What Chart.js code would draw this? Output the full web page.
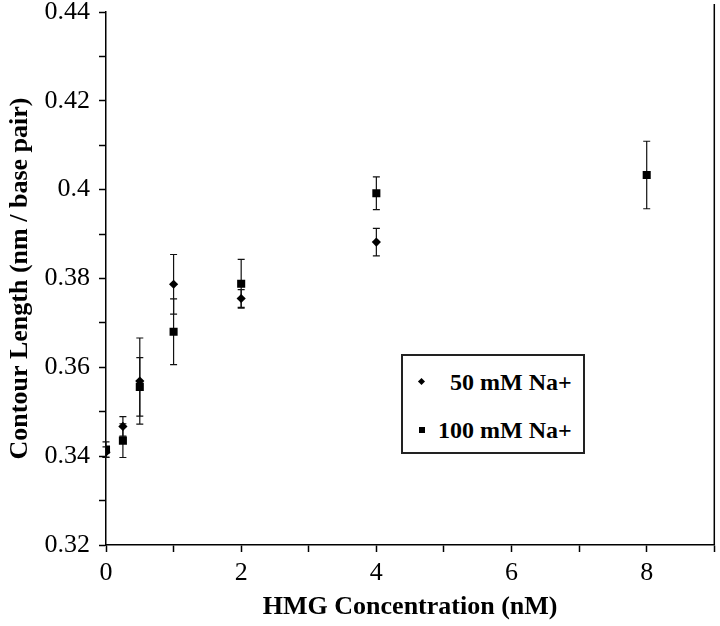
<!DOCTYPE html>
<html>
<head>
<meta charset="utf-8">
<script src="https://cdn.jsdelivr.net/npm/chart.js@4"></script>
<style>
  body { margin: 0; background: #fff; }
  #wrap { position: relative; width: 720px; height: 626px; }
  #legend {
    position: absolute; left: 401px; top: 354px; width: 180px; height: 96px;
    border: 2px solid #222; background: #fff;
    font-family: "Liberation Serif", serif; font-weight: bold; font-size: 24px; color: #000;
  }
  .row { position: absolute; white-space: nowrap; line-height: 24px; }
  .mark { position: absolute; background: #000; }
</style>
</head>
<body>
<div id="wrap">
  <canvas id="chart" width="720" height="626"></canvas>
  <div id="legend"></div>
</div>
<script>
// HMG concentration (nM) and contour length (nm / base pair)
const conc50 = [0, 0.25, 0.5, 1, 2, 4];
const len50 = [0.3409, 0.3467, 0.3569, 0.3787, 0.3755, 0.3882];
const err50 = [0.0012, 0.0022, 0.0097, 0.0067, 0.0020, 0.0031];

const conc100 = [0, 0.25, 0.5, 1, 2, 4, 8];
const len100 = [0.3415, 0.3435, 0.3556, 0.3680, 0.3788, 0.3992, 0.4033];
const err100 = [0.0017, 0.0038, 0.0066, 0.0074, 0.0055, 0.0037, 0.0076];

const seriesLabels = ["50 mM Na+", "100 mM Na+"];
const xTitle = "HMG Concentration (nM)";
const yTitle = "Contour Length (nm / base pair)";

const serif = "'Liberation Serif', 'Times New Roman', serif";

function toPoints(xs, ys) {
    return xs.map((x, i) => ({ x: x, y: ys[i] }));
}

// draws the vertical error bars with caps, under the markers
const errorBars = {
    id: "errorBars",
    beforeDatasetsDraw(chart) {
        const ctx = chart.ctx;
        const xs = chart.scales.x, ys = chart.scales.y;
        ctx.save();
        ctx.strokeStyle = "#111";
        ctx.lineWidth = 1.2;
        chart.data.datasets.forEach(ds => {
            ds.data.forEach((p, i) => {
                const e = ds.errors[i];
                const px = xs.getPixelForValue(p.x);
                const top = ys.getPixelForValue(p.y + e);
                const bot = ys.getPixelForValue(p.y - e);
                ctx.beginPath();
                ctx.moveTo(px, top); ctx.lineTo(px, bot);
                ctx.moveTo(px - 3.5, top); ctx.lineTo(px + 3.5, top);
                ctx.moveTo(px - 3.5, bot); ctx.lineTo(px + 3.5, bot);
                ctx.stroke();
            });
        });
        ctx.restore();
    },
    // right frame line
    afterDraw(chart) {
        const a = chart.chartArea;
        const ctx = chart.ctx;
        ctx.save();
        ctx.strokeStyle = "#000";
        ctx.lineWidth = 1.5;
        ctx.beginPath();
        ctx.moveTo(a.right, a.top - 8);
        ctx.lineTo(a.right, a.bottom);
        ctx.stroke();
        ctx.restore();
    }
};

const chart = new Chart(document.getElementById("chart"), {
    type: "scatter",
    data: {
        datasets: [
            {
                label: seriesLabels[0],
                data: toPoints(conc50, len50),
                errors: err50,
                pointStyle: "rectRot",
                pointRadius: 4.6,
                pointHoverRadius: 4.6,
                backgroundColor: "#000",
                borderColor: "#000",
                borderWidth: 0
            },
            {
                label: seriesLabels[1],
                data: toPoints(conc100, len100),
                errors: err100,
                pointStyle: "rect",
                pointRadius: 5.7,
                pointHoverRadius: 5.7,
                backgroundColor: "#000",
                borderColor: "#000",
                borderWidth: 0
            }
        ]
    },
    options: {
        responsive: false,
        animation: false,
        layout: { padding: { left: 0, right: 3, top: 12, bottom: 0 } },
        plugins: {
            legend: { display: false },
            tooltip: { enabled: false }
        },
        scales: {
            x: {
                type: "linear",
                min: 0,
                max: 9,
                afterFit: s => { s.height = 81; s.paddingLeft = 0; s.paddingRight = 0; },
                grid: { drawOnChartArea: false, tickLength: 7, color: "#000", tickWidth: 1.5 },
                border: { color: "#000", width: 1.5 },
                ticks: {
                    stepSize: 1,
                    padding: 8,
                    autoSkip: false,
                    maxRotation: 0,
                    color: "#000",
                    font: { family: serif, size: 26, lineHeight: 1 },
                    callback: v => (v % 2 === 0 ? String(v) : "")
                },
                title: {
                    display: true,
                    text: xTitle,
                    color: "#000",
                    font: { family: serif, size: 26, weight: "bold" },
                    padding: { top: 0, bottom: 3 }
                }
            },
            y: {
                type: "linear",
                min: 0.32,
                max: 0.44,
                afterFit: s => { s.width = 106; s.paddingTop = 0; s.paddingBottom = 0; },
                grid: { drawOnChartArea: false, tickLength: 7, color: "#000", tickWidth: 1.5 },
                border: { color: "#000", width: 1.5 },
                ticks: {
                    stepSize: 0.01,
                    padding: 9,
                    autoSkip: false,
                    color: "#000",
                    font: { family: serif, size: 26, lineHeight: 1 },
                    callback: v => {
                        const h = Math.round(v * 100);
                        return h % 2 === 0 ? String(h / 100) : "";
                    }
                },
                title: {
                    display: true,
                    text: yTitle,
                    color: "#000",
                    font: { family: serif, size: 26, weight: "bold" },
                    padding: { top: 5, bottom: 0 }
                }
            }
        }
    },
    plugins: [errorBars]
});

// legend box inside the plot, built from the dataset labels
const legend = document.getElementById("legend");
const rows = [
    { text: seriesLabels[0], markLeft: 16, markTop: 23, textLeft: 47, top: 14, shape: "diamond" },
    { text: seriesLabels[1], markLeft: 16, markTop: 71, textLeft: 35, top: 62, shape: "square" }
];
rows.forEach(r => {
    const m = document.createElement("div");
    m.className = "mark";
    if (r.shape === "diamond") {
        m.style.width = "5px"; m.style.height = "5px";
        m.style.transform = "rotate(45deg)";
    } else {
        m.style.width = "6px"; m.style.height = "6px";
    }
    m.style.left = r.markLeft + "px";
    m.style.top = r.markTop + "px";
    legend.appendChild(m);
    const t = document.createElement("div");
    t.className = "row";
    t.textContent = r.text;
    t.style.left = r.textLeft + "px";
    t.style.top = r.top + "px";
    legend.appendChild(t);
});
</script>
</body>
</html>
